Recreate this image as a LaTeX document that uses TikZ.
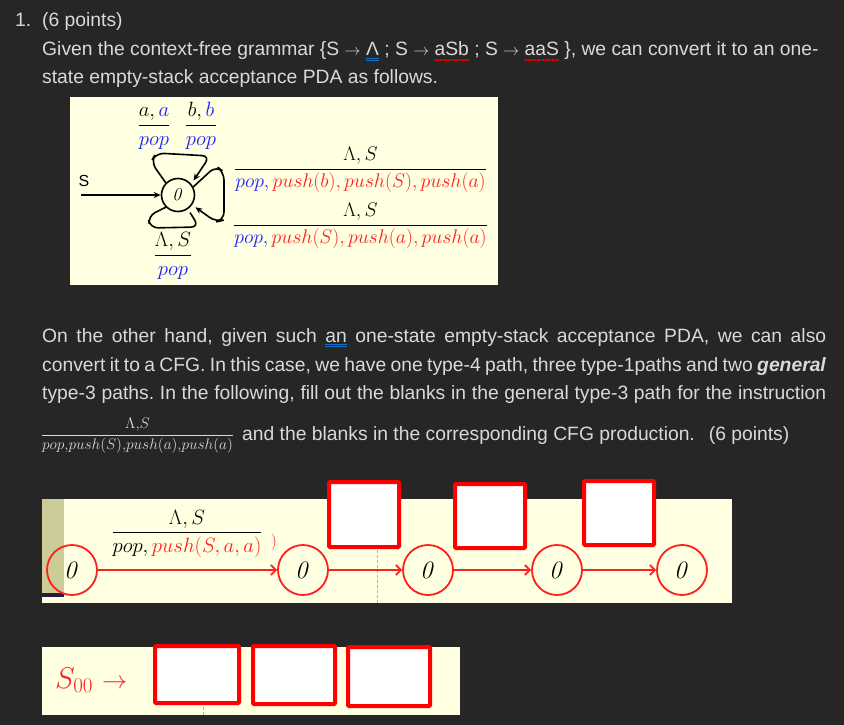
\RequirePackage{fix-cm}
\documentclass[tikz,border=0pt]{standalone}
\usepackage{amsmath}
\usepackage[no-math]{fontspec}
\setmainfont{Liberation Sans}
\usetikzlibrary{arrows.meta, positioning, calc}
\frenchspacing

\definecolor{pagebg}{HTML}{262626}
\definecolor{pagetxt}{HTML}{D9D9D9}
\definecolor{notebg}{HTML}{FFFFE1}
\definecolor{notestrip}{HTML}{CCCC99}
\definecolor{stripline}{HTML}{2A1A40}
\definecolor{popblue}{HTML}{1F1FFF}
\definecolor{pushred}{HTML}{FF1F1F}
\definecolor{boxred}{HTML}{FF0000}

% spell-check marks
\newcommand\bluedbl[1]{\setbox0\hbox{#1}\leavevmode\rlap{\color{cyan!50!blue}\rule[-3pt]{\wd0}{0.6pt}}\rlap{\color{cyan!50!blue}\rule[-4.6pt]{\wd0}{0.6pt}}\box0\relax}
\newcommand\redwave[1]{\setbox0\hbox{#1}\leavevmode\rlap{\color{red}\hbox to\wd0{\xleaders\hbox{\raisebox{-4.2pt}{\rule{0.8pt}{0.6pt}}\raisebox{-3.4pt}{\rule{0.8pt}{0.6pt}}}\hfil}}\box0\relax}
\newcommand\ar{{\fontsize{16}{18}\selectfont$\rightarrow$}}

\begin{document}
\begin{tikzpicture}[
    x=1pt, y=1pt,
    txt/.style={text=pagetxt, font=\fontsize{19.3}{22}\selectfont, anchor=base west, inner sep=0pt},
    note/.style={fill=notebg},
    lbl/.style={anchor=base, inner sep=0pt},
    st/.style={draw, circle, line width=1.6pt, minimum size=33pt, inner sep=0pt, font=\fontsize{18}{20}\selectfont},
    rst/.style={draw=pushred, circle, line width=1.8pt, minimum size=50pt, inner sep=0pt, font=\fontsize{25}{27}\selectfont},
    blank/.style={draw=boxred, fill=white, line width=4pt, rounded corners=1pt, inner sep=0pt},
    arr/.style={-{Stealth[length=7pt, width=6pt]}, line width=1.6pt},
    loopline/.style={line width=1.6pt, rounded corners=8pt, shorten >=4pt},
    redarr/.style={-{Straight Barb[length=5pt, width=10pt]}, draw=pushred, line width=1.8pt}
]
\path[use as bounding box, fill=pagebg] (0,0) rectangle (844,-725);

% question text
\node[txt] (num) at (15,-27) {1.};
\node[txt] (pts) at (42,-27) {(6 points)};
\node[txt] (g1) at (42,-56) {Given the context-free grammar \{S \ar{} \bluedbl{Λ} ; S \ar{} \redwave{aSb} ; S \ar{} \redwave{aaS} \}, we can convert it to an one-};
\node[txt] (g2) at (42,-84) {state empty-stack acceptance PDA as follows.};

% one-state PDA
\fill[note] (70,-97) rectangle (498,-285);
\node[st] (s) at (178,-195) {$\mathit{0}$};
\node[font=\fontsize{16}{18}\selectfont] (slbl) at (84,-181) {S};
\coordinate (start) at (81,-195);
\draw[arr] (start) -- (s);
\draw[arr, loopline] (s.135) -- (151,-162) -- (156,-153) -- (210,-156) -- (s.40);
\draw[arr, loopline] (s.28) -- (216,-166) -- (224,-172) -- (224,-220) -- (216,-222) -- (s.-35);
\draw[loopline] (s.225) -- (148,-216) -- (150,-228) -- (199,-227) -- (s.-55);
\node[lbl, font=\fontsize{20.7}{22}\selectfont] (fa) at (154,-131) {$\dfrac{a, \color{popblue}a}{\color{popblue}pop}$};
\node[lbl, font=\fontsize{20.7}{22}\selectfont] (fb) at (201,-131) {$\dfrac{b, \color{popblue}b}{\color{popblue}pop}$};
\node[lbl, font=\fontsize{20.7}{22}\selectfont] (flam) at (173,-261) {$\dfrac{\Lambda, S}{\color{popblue}pop}$};
\node[lbl, font=\fontsize{19.7}{21}\selectfont] (fr1) at (360.5,-174) {$\dfrac{\Lambda, S}{\color{popblue}pop, \color{pushred}push(b), push(S), push(a)}$};
\node[lbl, font=\fontsize{19.7}{21}\selectfont] (fr2) at (360.5,-230) {$\dfrac{\Lambda, S}{\color{popblue}pop, \color{pushred}push(S), push(a), push(a)}$};

% second paragraph
\node[txt] (p1) at (42,-342) {\makebox[784pt][s]{On the other hand, given such \bluedbl{an} one-state empty-stack acceptance PDA, we can also}};
\node[txt] (p2) at (42,-371) {\makebox[784pt][s]{convert it to a CFG. In this case, we have one type-4 path, three type-1paths and two \textbf{\textit{general}}}};
\node[txt] (p3) at (42,-399) {\makebox[784pt][s]{type-3 paths. In the following, fill out the blanks in the general type-3 path for the instruction}};
\node[lbl, text=pagetxt, font=\fontsize{15.3}{17}\selectfont] (finst) at (137.5,-439) {$\dfrac{\Lambda{,}S}{pop{,}push(S){,}push(a){,}push(a)}$};
\node[txt] (p4) at (242,-440) {and the blanks in the corresponding CFG production.\hspace{14pt}(6 points)};

% general type-3 path
\fill[note] (42,-499) rectangle (732,-603);
\fill[notestrip] (42,-499) rectangle (64,-593);
\fill[stripline] (42,-593) rectangle (64,-597);
\draw[gray!60, densely dashed, line width=0.6pt] (377,-550) -- (377,-604);
\foreach \name/\x in {q0/72, q1/303, q2/428, q3/557, q4/682}
    \node[rst] (\name) at (\x,-570) {$\mathit{0}$};
\foreach \a/\b in {q0/q1, q1/q2, q2/q3, q3/q4}
    \draw[redarr] (\a) -- (\b);
\node[lbl, font=\fontsize{20.7}{22}\selectfont] (fpath) at (187,-538) {$\dfrac{\Lambda, S}{pop, \color{pushred}push(S, a, a)}$};
\node[lbl, text=pushred, font=\fontsize{17}{19}\selectfont] (paren) at (274,-546) {$)$};
\node[blank, minimum width=70pt, minimum height=65pt] (b1) at (364,-514.5) {};
\node[blank, minimum width=70pt, minimum height=64pt] (b2) at (490,-516) {};
\node[blank, minimum width=70pt, minimum height=64pt] (b3) at (619,-513) {};

% production
\fill[note] (42,-647) rectangle (460,-715);
\draw[gray!60, densely dashed, line width=0.6pt] (203,-707) -- (203,-715);
\node[anchor=base west, inner sep=0pt, text=pushred] (lhs) at (55,-688) {\fontsize{30}{32}\selectfont$S_{00}$\hspace{9pt}{\fontsize{25}{26}\selectfont$\rightarrow$}};
\node[blank, minimum width=84pt, minimum height=57pt] (c1) at (197,-674.5) {};
\node[blank, minimum width=82pt, minimum height=58pt] (c2) at (294,-675) {};
\node[blank, minimum width=82pt, minimum height=59pt] (c3) at (389,-676.5) {};
\end{tikzpicture}
\end{document}
